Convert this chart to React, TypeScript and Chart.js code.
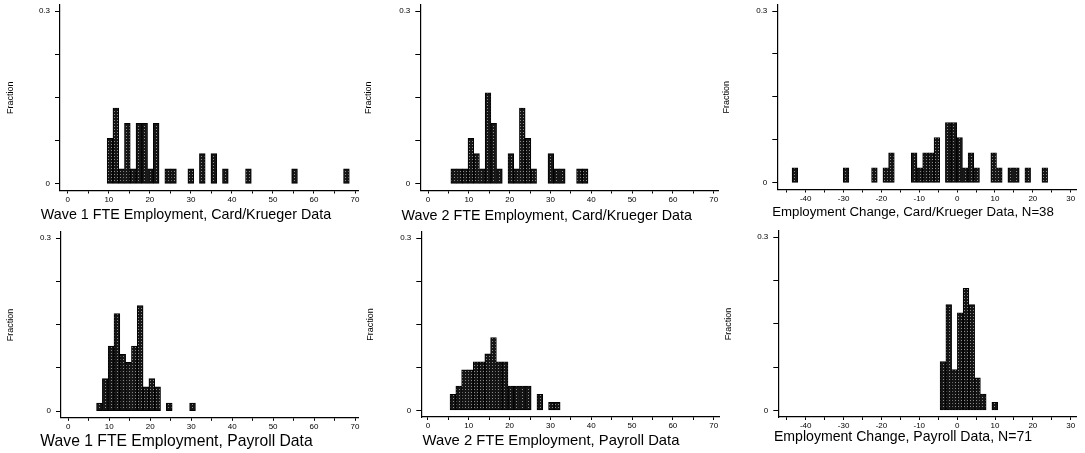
import React, { useEffect, useRef } from "react";
import { Chart, registerables } from "chart.js";

Chart.register(...registerables);

// ---------------- data ----------------
const ckN = 38;
const payrollN = 71;

// Wave 1 FTE employment, Card/Krueger data (histogram counts per bin)
const wave1CkBinStart = 9.6;
const wave1CkBinWidth = 1.405;
const wave1CkCounts = [3, 5, 1, 4, 1, 4, 4, 1, 4, 0, 1, 1, 0, 0, 1, 0, 2, 0, 2, 0, 1, 0, 0, 0, 1, 0, 0, 0, 0, 0, 0, 0, 1, 0, 0, 0, 0, 0, 0, 0, 0, 1];

// Wave 2 FTE employment, Card/Krueger data
const wave2CkBinStart = 5.6;
const wave2CkBinWidth = 1.4;
const wave2CkCounts = [1, 1, 1, 3, 2, 1, 6, 4, 1, 0, 2, 1, 5, 3, 1, 0, 0, 2, 1, 1, 0, 0, 1, 1];

// Employment change, Card/Krueger data
const changeCkBinStart = -43.6;
const changeCkBinWidth = 1.5;
const changeCkCounts = [1, 0, 0, 0, 0, 0, 0, 0, 0, 1, 0, 0, 0, 0, 1, 0, 1, 2, 0, 0, 0, 2, 1, 2, 2, 3, 0, 4, 4, 3, 1, 2, 1, 0, 0, 2, 1, 0, 1, 1, 0, 1, 0, 0, 1];

// Wave 1 FTE employment, payroll data
const wave1PayBinStart = 6.9;
const wave1PayBinWidth = 1.42;
const wave1PayCounts = [1, 4, 8, 12, 7, 6, 8, 13, 3, 4, 3, 0, 1, 0, 0, 0, 1];

// Wave 2 FTE employment, payroll data
const wave2PayBinStart = 5.4;
const wave2PayBinWidth = 1.42;
const wave2PayCounts = [2, 3, 5, 5, 6, 6, 7, 9, 6, 6, 3, 3, 3, 3, 0, 2, 0, 1, 1];

// Employment change, payroll data
const changePayBinStart = -4.5;
const changePayBinWidth = 1.52;
const changePayCounts = [6, 13, 5, 12, 15, 13, 4, 2, 0, 1];

// tick values / labels
const levelTicks = [0, 5, 10, 15, 20, 25, 30, 35, 40, 45, 50, 55, 60, 65, 70];
const changeTicks = [-45, -40, -35, -30, -25, -20, -15, -10, -5, 0, 5, 10, 15, 20, 25, 30];
const fractionTicks = [0, 0.075, 0.15, 0.225, 0.3];
const fractionLabels = ["0", "", "", "", "0.3"];

const titles = [
  "Wave 1 FTE Employment, Card/Krueger Data",
  "Wave 2 FTE Employment, Card/Krueger Data",
  "Employment Change, Card/Krueger Data, N=38",
  "Wave 1 FTE Employment, Payroll Data",
  "Wave 2 FTE Employment, Payroll Data",
  "Employment Change, Payroll Data, N=71",
];
const yTitle = "Fraction";

// ---------------- layout (pixels) ----------------
const FONT = "'Liberation Sans', Arial, Helvetica, sans-serif";
const PAD_TOP = 12;
const X_AXIS_H = 16;
const Y_MIN = -0.0115;
const Y_MAX = 0.3105;

const layouts = [
  { cl: 5, L: 60, R: 358.3, T: 5, B: 190.5, xMin: -1.9, xMax: 70.8, tx: 186, tb: 219.5, ts: 14.3 },
  { cl: 363, L: 420.3, R: 718.6, T: 5, B: 190.5, xMin: -1.89, xMax: 71.2, tx: 546.7, tb: 220, ts: 14.3 },
  { cl: 721, L: 777.3, R: 1076.4, T: 5, B: 189.5, xMin: -47.5, xMax: 31.5, tx: 913, tb: 216.5, ts: 13.25 },
  { cl: 5, L: 61, R: 358.3, T: 232, B: 417.8, xMin: -1.78, xMax: 70.8, tx: 176.5, tb: 446, ts: 15.7 },
  { cl: 365, L: 421.3, R: 719.4, T: 232, B: 417, xMin: -1.64, xMax: 71.4, tx: 551, tb: 445.5, ts: 14.8 },
  { cl: 723, L: 778.3, R: 1076.4, T: 231, B: 417, xMin: -47.24, xMax: 31.5, tx: 903, tb: 441, ts: 14.1 },
];

const series = [
  { start: wave1CkBinStart, width: wave1CkBinWidth, counts: wave1CkCounts, n: ckN, ticks: levelTicks },
  { start: wave2CkBinStart, width: wave2CkBinWidth, counts: wave2CkCounts, n: ckN, ticks: levelTicks },
  { start: changeCkBinStart, width: changeCkBinWidth, counts: changeCkCounts, n: ckN, ticks: changeTicks },
  { start: wave1PayBinStart, width: wave1PayBinWidth, counts: wave1PayCounts, n: payrollN, ticks: levelTicks },
  { start: wave2PayBinStart, width: wave2PayBinWidth, counts: wave2PayCounts, n: payrollN, ticks: levelTicks },
  { start: changePayBinStart, width: changePayBinWidth, counts: changePayCounts, n: payrollN, ticks: changeTicks },
];

function makePattern(): CanvasPattern | string {
  const c = document.createElement("canvas");
  c.width = 3;
  c.height = 3;
  const g = c.getContext("2d");
  if (!g) return "#222";
  g.fillStyle = "#151515";
  g.fillRect(0, 0, 3, 3);
  g.fillStyle = "#8c8c8c";
  g.fillRect(1, 1, 1, 1);
  return g.createPattern(c, "repeat") || "#222";
}

function HistPanel({ idx }: { idx: number }) {
  const ref = useRef<HTMLCanvasElement | null>(null);
  const lay = layouts[idx];
  const s = series[idx];

  const top = lay.T - PAD_TOP;
  const W = Math.ceil(lay.R + 8 - lay.cl);
  const padRight = lay.cl + W - lay.R;
  const H = Math.ceil(lay.B + X_AXIS_H - top);
  const padBottom = top + H - lay.B - X_AXIS_H;
  const yW = lay.L - lay.cl;

  useEffect(() => {
    const canvas = ref.current;
    if (!canvas) return;
    const pattern = makePattern();
    const points = s.counts.map((c, i) => ({
      x: s.start + (i + 0.5) * s.width,
      y: c > 0 ? c / s.n : null,
    }));
    const chart = new Chart(canvas, {
      type: "bar",
      data: {
        datasets: [
          {
            data: points as any,
            backgroundColor: pattern as any,
            borderColor: "#000",
            borderWidth: 1,
            borderSkipped: false,
            barPercentage: 1,
            categoryPercentage: 1,
          },
        ],
      },
      options: {
        animation: false,
        responsive: false,
        maintainAspectRatio: false,
        events: [],
        layout: { padding: { left: 0, top: PAD_TOP, right: padRight, bottom: padBottom } },
        plugins: { legend: { display: false }, tooltip: { enabled: false }, title: { display: false } },
        scales: {
          x: {
            type: "linear",
            min: lay.xMin,
            max: lay.xMax,
            offset: false,
            afterBuildTicks: (sc: any) => {
              sc.ticks = s.ticks.map((v) => ({ value: v }));
            },
            afterFit: (sc: any) => {
              sc.height = X_AXIS_H;
            },
            ticks: {
              autoSkip: false,
              maxRotation: 0,
              minRotation: 0,
              padding: 1,
              color: "#000",
              font: { family: FONT, size: 8 },
              callback: (v: any) => (Number(v) % 10 === 0 ? String(v) : ""),
            },
            grid: { display: true, offset: false, drawOnChartArea: false, drawTicks: true, tickLength: 3, color: "#000", lineWidth: 1 },
            border: { display: true, color: "#000", width: 1.3 },
          },
          y: {
            type: "linear",
            min: Y_MIN,
            max: Y_MAX,
            afterBuildTicks: (sc: any) => {
              sc.ticks = fractionTicks.map((v) => ({ value: v }));
            },
            afterFit: (sc: any) => {
              sc.width = yW;
            },
            ticks: {
              padding: 5,
              color: "#000",
              font: { family: FONT, size: 8 },
              callback: (_v: any, i: number) => fractionLabels[i] ?? "",
            },
            title: {
              display: true,
              text: yTitle,
              color: "#000",
              font: { family: FONT, size: 9 },
              padding: { top: 0, bottom: 0 },
            },
            grid: { display: true, drawOnChartArea: false, drawTicks: true, tickLength: 5, color: "#000", lineWidth: 1 },
            border: { display: true, color: "#000", width: 1.2 },
          },
        },
      } as any,
    });
    return () => chart.destroy();
  }, [idx]);

  return (
    <canvas
      ref={ref}
      width={W}
      height={H}
      style={{ position: "absolute", left: lay.cl, top, width: W, height: H }}
    />
  );
}

export default function App() {
  return (
    <div
      style={{
        position: "absolute",
        left: 0,
        top: 0,
        width: 1085,
        height: 453,
        overflow: "hidden",
        background: "#fff",
      }}
    >
      {layouts.map((_, i) => (
        <HistPanel key={i} idx={i} />
      ))}
      {layouts.map((lay, i) => (
        <div
          key={"t" + i}
          style={{
            position: "absolute",
            left: lay.tx,
            top: lay.tb - 0.8465 * lay.ts,
            transform: "translateX(-50%)",
            fontFamily: FONT,
            fontSize: lay.ts,
            lineHeight: 1,
            whiteSpace: "nowrap",
            color: "#000",
          }}
        >
          {titles[i]}
        </div>
      ))}
    </div>
  );
}
